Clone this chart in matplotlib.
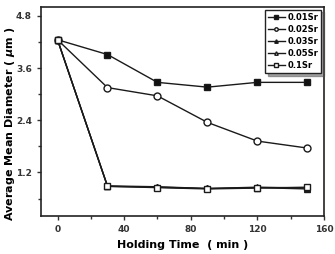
import matplotlib
matplotlib.use('Agg')
import matplotlib.pyplot as plt
from matplotlib.ticker import MultipleLocator

# holding time (min)
time = [0, 30, 60, 90, 120, 150]

# average mean diameter (um) for each Sr addition
sr001 = [4.25, 3.91, 3.27, 3.16, 3.27, 3.27]
sr002 = [4.25, 3.15, 2.96, 2.35, 1.92, 1.76]
sr003 = [4.25, 0.88, 0.86, 0.83, 0.85, 0.82]
sr005 = [4.25, 0.89, 0.87, 0.83, 0.86, 0.84]
sr01 = [4.25, 0.88, 0.85, 0.82, 0.84, 0.86]

labels = ['0.01Sr', '0.02Sr', '0.03Sr', '0.05Sr', '0.1Sr']

plt.rcParams['font.family'] = 'DejaVu Sans'
plt.rcParams['font.weight'] = 'bold'

fig = plt.figure(figsize=(3.35, 2.54), dpi=100)
ax = fig.add_axes([0.122, 0.15, 0.845, 0.822])

kw = dict(color='#1a1a1a', lw=1.0, ms=5, mew=1.0)
ax.plot(time, sr001, marker='s', mfc='#111111', label=labels[0], **kw)
ax.plot(time, sr002, marker='o', mfc='white', label=labels[1], **kw)
ax.plot(time, sr003, marker='^', mfc='#111111', label=labels[2], **kw)
ax.plot(time, sr005, marker='^', mfc='white', label=labels[3], **kw)
ax.plot(time, sr01, marker='s', mfc='white', label=labels[4], **kw)

ax.set_xlim(-10, 160)
ax.set_ylim(0.2, 5.0)
ax.xaxis.set_major_locator(MultipleLocator(40))
ax.xaxis.set_minor_locator(MultipleLocator(20))
ax.yaxis.set_major_locator(MultipleLocator(1.2))
ax.yaxis.set_minor_locator(MultipleLocator(0.6))
ax.set_yticks([1.2, 2.4, 3.6, 4.8])
ax.tick_params(which='both', direction='out', labelsize=6.5, width=1.0, colors='#333333')
ax.tick_params(which='major', length=3)
ax.tick_params(which='minor', length=2)
for s in ax.spines.values():
    s.set_linewidth(1.2)
    s.set_color('#222222')

ax.set_xlabel('Holding Time  ( min )', fontsize=8, fontweight='bold')
ax.set_ylabel('Average Mean Diameter ( $\\mu$m )', fontsize=8, fontweight='bold')
ax.xaxis.set_label_coords(0.5, -0.115)
ax.yaxis.set_label_coords(-0.085, 0.44)

leg = ax.legend(loc='upper right', fontsize=6, shadow=True, fancybox=False,
                handlelength=2.0, markerscale=0.5, labelspacing=0.35,
                borderpad=0.4, handletextpad=0.3, borderaxespad=0.3)
leg.get_frame().set_edgecolor('#222222')
leg.get_frame().set_linewidth(1.0)

fig.savefig('out.png', dpi=100)
